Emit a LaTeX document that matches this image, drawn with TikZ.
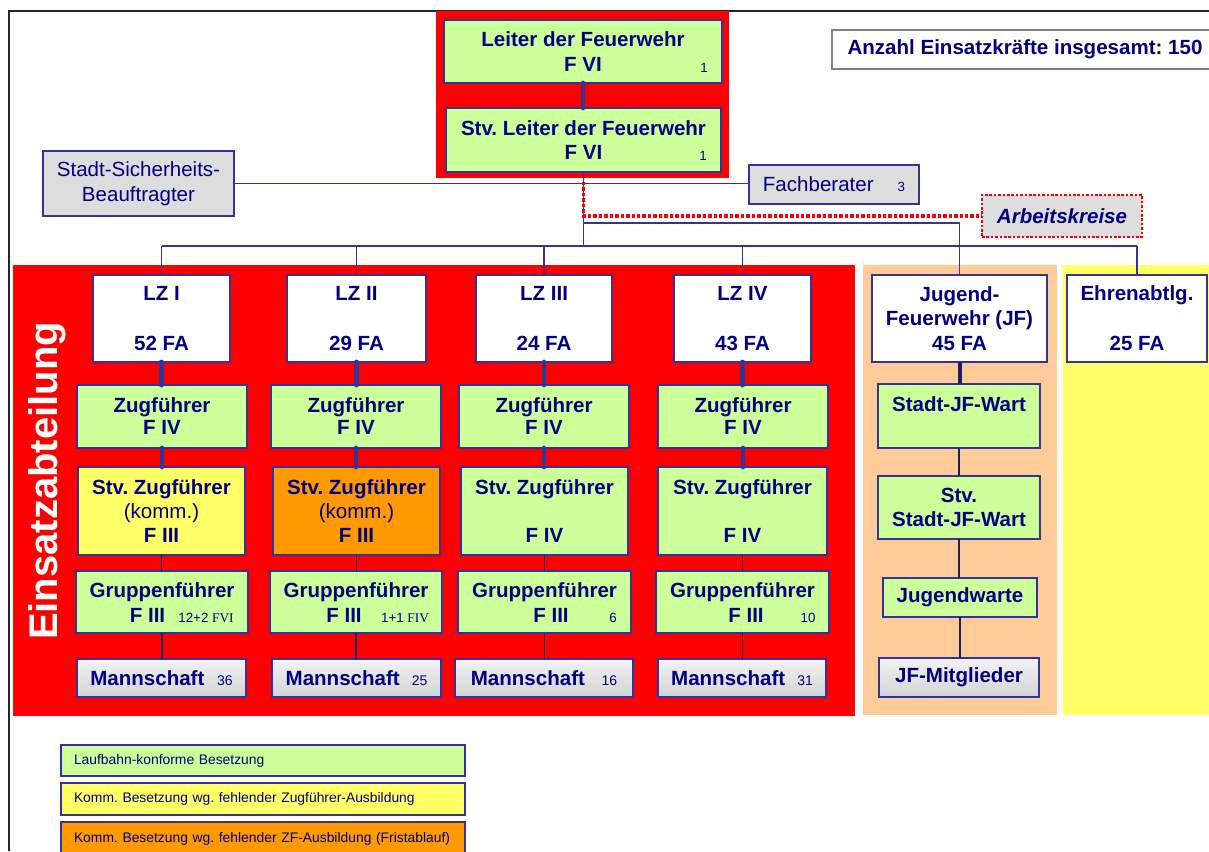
\documentclass[tikz,border=0pt]{standalone}
\usepackage{fontspec}
\setmainfont{Liberation Sans}
\newfontfamily\serifnum{Liberation Serif}
\definecolor{tb}{RGB}{0,0,128}
\definecolor{bc}{RGB}{51,51,153}
\definecolor{lgreen}{RGB}{204,255,153}
\definecolor{lyellow}{RGB}{255,255,102}
\definecolor{lorange}{RGB}{255,153,0}
\definecolor{peach}{RGB}{255,204,153}
\definecolor{lgray}{RGB}{221,221,221}
\definecolor{dnavy}{RGB}{30,30,100}
\newcommand\bx[7]{\node[#6, minimum width={(#4-#2)*0.75pt}, minimum height={(#5-#3)*0.75pt}] (#1) at ({(#2+#4)/2},{(#3+#5)/2}) {#7};}
\newcommand\smallnum{\fontsize{10}{12}\selectfont\mdseries}
\tikzset{
  box/.style={draw=bc, line width=1pt, inner sep=0pt, outer sep=0pt, text=tb, align=center, font=\fontsize{15.4}{18.5}\selectfont\bfseries},
  gbox/.style={box, fill=lgreen},
  wbox/.style={box, fill=white},
  ybox/.style={box, fill=lyellow},
  obox/.style={box, fill=lorange},
  graybox/.style={box, fill=lgray, font=\fontsize{15.4}{18.5}\selectfont},
  mbox/.style={box, top color=black!5, middle color=white, bottom color=black!17},
  legbox/.style={draw=bc, line width=1pt, outer sep=0pt, inner xsep=9.75pt, inner ysep=0pt, text width={(404*0.75pt-19.5pt)}, align=left, text=tb, font=\fontsize{10.4}{12.5}\selectfont},
  num/.style={text=tb, inner sep=0pt, font=\smallnum},
  lbl/.style={text=tb, inner sep=0pt, font=\fontsize{15.4}{18.5}\selectfont\bfseries},
  thick conn/.style={draw=bc, line width=3.6pt, line cap=round},
  org/.style={draw=bc, line width=1.3pt},
  thin conn/.style={draw=dnavy, line width=1pt},
  reddot/.style={draw=red, line width=2.6pt, dash pattern=on 2.6pt off 1.5pt},
}
\begin{document}
\frenchspacing
\begin{tikzpicture}[x=0.75pt,y=-0.75pt]
\useasboundingbox (0,0) rectangle (1209,851);
% frame
\draw[black!85, line width=1.4pt] (9,851) -- (9,11) -- (1209,11);
% background regions
\fill[red] (436,11) rectangle (729,178);
\fill[red] (13,265) rectangle (855,716);
\fill[peach] (863,265) rectangle (1057,715);
\fill[lyellow] (1063,265) rectangle (1209,715);
\node[rotate=90, anchor=base, text=white, inner sep=0pt, font=\fontsize{30}{36}\selectfont\bfseries] (einsatz) at (57,481) {Einsatzabteilung};

% top boxes
\bx{leiter}{444}{20}{722}{83}{gbox}{Leiter der Feuerwehr\\F VI}
\bx{stvl}{446}{108}{721}{172}{gbox}{Stv. Leiter der Feuerwehr\\F VI}
\node[num] (n1) at (704,68) {1};
\node[num] (n2) at (703,156) {1};
\bx{anz}{832}{30}{1218}{69}{box, draw=black!50, fill=white}{Anzahl Einsatzkräfte insgesamt: 150}
\bx{ssb}{43}{151}{234}{216}{graybox}{Stadt-Sicherheits-\\[0.3pt]Beauftragter}
\bx{fach}{749}{165}{919}{204}{graybox}{Fachberater\hspace{18pt}{\smallnum 3}}
\bx{ak}{982}{195}{1142}{237}{box, fill=lgray, draw=red, line width=2pt, dash pattern=on 2pt off 1.3pt, font=\fontsize{15.4}{18.5}\selectfont\bfseries\itshape}{Arbeitskreise}

% LZ boxes
\bx{lzA}{93}{275}{230}{362}{wbox}{LZ I\\[19pt]52 FA}
\bx{lzB}{287}{275}{426}{362}{wbox}{LZ II\\[19pt]29 FA}
\bx{lzC}{476}{275}{612}{362}{wbox}{LZ III\\[19pt]24 FA}
\bx{lzD}{674}{275}{811}{362}{wbox}{LZ IV\\[19pt]43 FA}
\bx{jug}{872}{275}{1047}{362}{wbox}{Jugend-\\Feuerwehr (JF)\\45 FA}
\bx{ehr}{1067}{275}{1207}{362}{wbox}{Ehrenabtlg.\\[19pt]25 FA}

% Zugfuehrer
\bx{zfA}{77}{385}{247}{448}{gbox}{Zugführer\\[-2pt]F IV}
\bx{zfB}{271}{385}{441}{448}{gbox}{Zugführer\\[-2pt]F IV}
\bx{zfC}{459}{385}{629}{448}{gbox}{Zugführer\\[-2pt]F IV}
\bx{zfD}{658}{385}{828}{448}{gbox}{Zugführer\\[-2pt]F IV}

% Stv Zugfuehrer
\bx{szA}{78}{467}{245}{555}{ybox}{Stv. Zugführer\\[-0.5pt]{\mdseries (komm.)}\\[-0.5pt]F III}
\bx{szB}{273}{467}{440}{555}{obox}{Stv. Zugführer\\[-0.5pt]{\mdseries (komm.)}\\[-0.5pt]F III}
\bx{szC}{461}{467}{628}{555}{gbox}{Stv. Zugführer\\[-0.5pt]~\\[-0.5pt]F IV}
\bx{szD}{658}{467}{827}{555}{gbox}{Stv. Zugführer\\[-0.5pt]~\\[-0.5pt]F IV}

% Gruppenfuehrer
\bx{gfA}{76}{571}{248}{633}{gbox}{Gruppenführer\\~}
\bx{gfB}{270}{571}{442}{633}{gbox}{Gruppenführer\\~}
\bx{gfC}{458}{571}{631}{633}{gbox}{Gruppenführer\\~}
\bx{gfD}{656}{571}{829}{633}{gbox}{Gruppenführer\\~}
\node[lbl] (fA) at (147.5,615) {F III};
\node[lbl] (fB) at (344,615) {F III};
\node[lbl] (fC) at (551,615) {F III};
\node[lbl] (fD) at (746,615) {F III};
\node[num] (gA) at (206,618) {12+2 {\serifnum FVI}};
\node[num] (gB) at (405,618) {1+1 {\serifnum FIV}};
\node[num] (gC) at (613,618) {6};
\node[num] (gD) at (808,618) {10};

% Mannschaft
\bx{msA}{77}{659}{246}{697}{mbox}{Mannschaft\hspace{9.5pt}{\fontsize{10.5}{12}\selectfont\mdseries 36}}
\bx{msB}{272}{659}{441}{697}{mbox}{Mannschaft\hspace{9pt}{\fontsize{10.5}{12}\selectfont\mdseries 25}}
\bx{msC}{455}{659}{633}{697}{mbox}{Mannschaft\hspace{12.5pt}{\fontsize{10.5}{12}\selectfont\mdseries 16}}
\bx{msD}{658}{659}{826}{697}{mbox}{Mannschaft\hspace{9pt}{\fontsize{10.5}{12}\selectfont\mdseries 31}}

% Jugend column
\bx{sjw}{878}{384}{1040}{448}{gbox}{Stadt-JF-Wart\\~}
\bx{sstv}{878}{476}{1040}{539}{gbox}{Stv.\\Stadt-JF-Wart}
\bx{jw}{883}{578}{1037}{617}{gbox}{Jugendwarte}
\bx{jfm}{879}{658}{1039}{697}{mbox}{JF-Mitglieder}

% Legend
\bx{legA}{61}{745}{465}{776}{legbox, fill=lgreen}{Laufbahn-konforme Besetzung}
\bx{legB}{61}{783}{465}{815}{legbox, fill=lyellow}{Komm. Besetzung wg. fehlender Zugführer-Ausbildung}
\bx{legC}{61}{822}{465}{855}{legbox, fill=lorange}{Komm. Besetzung wg. fehlender ZF-Ausbildung (Fristablauf)}

% organisational lines
\coordinate (busL) at (162,246);
\coordinate (busR) at (1137,246);
\coordinate (jy) at (583.5,223);
\coordinate (rd) at (583.5,182);
\draw[org] (ssb.east) -- (ssb.east -| fach.west);
\draw[org] (stvl.south) -- (stvl.south |- busL);
\draw[org] (busL) -- (busR);
\foreach \n in {lzA,lzB,lzC,lzD,ehr} \draw[org] (\n.north) -- (\n.north |- busL);
\draw[org] (jy) -| (jug.north);
\draw[reddot] (rd) |- (ak.west);

% connectors inside columns
\draw[thick conn] (leiter.south) -- (leiter.south |- stvl.north);
\foreach \a/\b/\c/\d/\e in {lzA/zfA/szA/gfA/msA, lzB/zfB/szB/gfB/msB, lzC/zfC/szC/gfC/msC, lzD/zfD/szD/gfD/msD}{
  \draw[thick conn] (\a.south) -- (\a.south |- \b.north);
  \draw[thick conn] (\b.south) -- (\b.south |- \c.north);
  \draw[thin conn] (\c.south) -- (\c.south |- \d.north);
  \draw[thin conn] (\d.south) -- (\d.south |- \e.north);
}
\draw[draw=dnavy, line width=3pt] (jug.south) -- (jug.south |- sjw.north);
\draw[thin conn] (sjw.south) -- (sjw.south |- sstv.north);
\draw[thin conn] (sstv.south) -- (sstv.south |- jw.north);
\draw[thin conn] (jw.south) -- (jw.south |- jfm.north);
\end{tikzpicture}
\end{document}
